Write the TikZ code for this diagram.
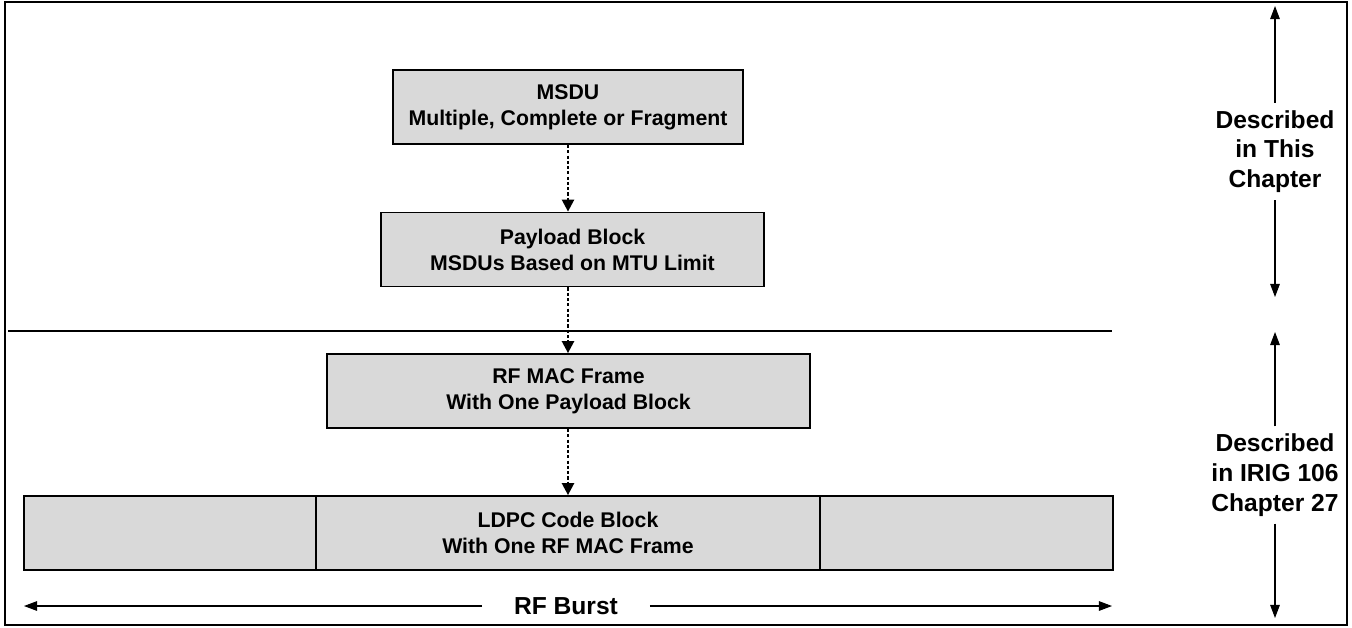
\documentclass[tikz,border=0pt]{standalone}
\usepackage{fontspec}
\setmainfont{Liberation Sans}
\usetikzlibrary{arrows.meta}
\definecolor{boxgray}{HTML}{D9D9D9}

\begin{document}
\begin{tikzpicture}[x=0.02cm, y=-0.02cm,
  blockbox/.style={draw, line width=1.1pt, fill=boxgray, align=center, inner sep=0pt,
    font=\fontsize{12.1}{14.8}\selectfont\bfseries},
  flow/.style={-{Triangle[length=6.8pt,width=7pt]}, line width=0.9pt,
    dash pattern=on 1.8pt off 1.2pt},
  span/.style={-{Triangle[length=7.5pt,width=5.5pt]}, line width=0.6pt},
  sidelabel/.style={align=center, inner sep=4pt,
    font=\fontsize{14}{17}\selectfont\bfseries}]

    % Parameters
    \def\pxl{0.02cm}   % one pixel of the page
    \def\bh{74}        % block height

    % Frame
    \useasboundingbox (0,0) rectangle (1352,627);
    \draw[line width=0.9pt] (5,2) rectangle (1347,625);

    % Blocks
    \node[blockbox, minimum width=350*\pxl, minimum height=\bh*\pxl]
      (msdu) at (568,107) {MSDU\\Multiple, Complete or Fragment};
    \node[blockbox, minimum width=383*\pxl, minimum height=\bh*\pxl]
      (payload) at (572.5,249.5) {Payload Block\\MSDUs Based on MTU Limit};
    \node[blockbox, minimum width=483*\pxl, minimum height=\bh*\pxl]
      (macframe) at (568.5,391) {RF MAC Frame\\With One Payload Block};

    % LDPC row
    \node[blockbox, minimum width=292*\pxl, minimum height=\bh*\pxl]
      (ldpcleft) at (170,533) {};
    \node[blockbox, minimum width=504*\pxl, minimum height=\bh*\pxl]
      (ldpc) at (568,533) {LDPC Code Block\\With One RF MAC Frame};
    \node[blockbox, minimum width=293*\pxl, minimum height=\bh*\pxl]
      (ldpcright) at (966.5,533) {};

    % Flow arrows
    \draw[flow] (msdu.south) -- (msdu.south |- payload.north);
    \draw[flow] (msdu.south |- payload.south) -- (msdu.south |- macframe.north);
    \draw[flow] (msdu.south |- macframe.south) -- (msdu.south |- ldpc.north);

    % Divider
    \coordinate (divL) at (8,331);
    \coordinate (divR) at (1112,331);
    \draw[line width=0.6pt] (divL) -- (divR);

    % RF burst span
    \node[sidelabel, inner xsep=18pt] (burst) at (566,606) {RF Burst};
    \coordinate (burstL) at (24,606);
    \coordinate (burstR) at (1112,606);
    \draw[span] (burst) -- (burstL);
    \draw[span] (burst) -- (burstR);

    % Side spans
    \node[sidelabel] (thischap) at (1275,151.5) {Described\\in This\\Chapter};
    \coordinate (thistop) at (1275,6);
    \coordinate (thisbot) at (1275,297);
    \draw[span] (thischap) -- (thistop);
    \draw[span] (thischap) -- (thisbot);

    \node[sidelabel] (irig) at (1275,475) {Described\\in IRIG 106\\Chapter 27};
    \coordinate (irigtop) at (1275,332);
    \coordinate (irigbot) at (1275,618);
    \draw[span] (irig) -- (irigtop);
    \draw[span] (irig) -- (irigbot);
\end{tikzpicture}
\end{document}
